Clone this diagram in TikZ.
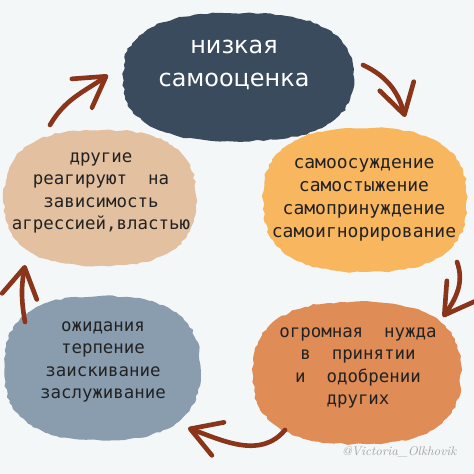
\documentclass[tikz,border=0pt]{standalone}
\usepackage{fontspec}
\newfontfamily\titrefont{DejaVu Sans}
\newfontfamily\monofont{DejaVu Sans Mono}
\usetikzlibrary{arrows.meta}

% une tache de peinture : couleur, centre x, centre y, demi-largeur, demi-hauteur
\newcommand{\tache}[5]{%
  \fill[#1] plot[domain=1:359, samples=130, variable=\t]
    ({#2 + #4*(1+0.014*rand)*sign(cos(\t))*abs(cos(\t))^0.78},
     {#3 + #5*(1+0.014*rand)*sign(sin(\t))*abs(sin(\t))^0.78}) -- cycle;}

\begin{document}
\begin{tikzpicture}[x=0.025cm,y=0.025cm]
  % Définir les couleurs du schéma
  \definecolor{fond}{HTML}{F3F7F8}
  \definecolor{ardoise}{HTML}{3A4B5E}
  \definecolor{sable}{HTML}{E3C0A0}
  \definecolor{abricot}{HTML}{F8B65E}
  \definecolor{gris}{HTML}{8A9DAF}
  \definecolor{cuivre}{HTML}{DF8C56}
  \definecolor{rouille}{HTML}{8A341A}
  \definecolor{encre}{HTML}{222222}
  \pgfmathsetseed{7}

  \tikzset{
    texte/.style={align=center, text=encre,
      font=\monofont\fontsize{12.4}{16}\selectfont},
    fleche/.style={rouille, line width=3.3pt, line cap=round,
      -{Straight Barb[length=21pt, width=25pt, round]}}
  }

  % Le fond
  \fill[fond] (0,0) rectangle (474,474);
  \useasboundingbox (0,0) rectangle (474,474);

  % Dessiner les taches de couleur
  \tache{ardoise}{238}{397}{115}{64}
  \tache{sable}{100}{276}{96}{68}
  \tache{abricot}{365}{274}{102}{72}
  \tache{gris}{102}{106}{98}{72}
  \tache{cuivre}{357}{101}{104}{71}

  % Les textes
  \node[align=center, text=white, font=\titrefont\fontsize{17}{23.4}\selectfont] (haut) at (234,409) {низкая\\самооценка};
  \node[texte] (gauche) at (101,281) {другие\\реагируют~~на\\зависимость\\агрессией,властью};
  \node[texte, font=\monofont\fontsize{12.8}{16.2}\selectfont] (droite) at (364,274) {самоосуждение\\самостыжение\\самопринуждение\\самоигнорирование};
  \node[texte] (basgauche) at (103,112) {ожидания\\терпение\\заискивание\\заслуживание};
  \node[texte] (basdroite) at (358,106) {огромная~~нужда\\в~~принятии\\и~~одобрении\\других};

  % Les extrémités des flèches
  \coordinate (f1a) at (50,349);  \coordinate (f1b) at (108,399);
  \coordinate (f2a) at (363,409); \coordinate (f2b) at (405,357);
  \coordinate (f3a) at (457,212); \coordinate (f3b) at (443,157);
  \coordinate (f4a) at (285,44);  \coordinate (f4b) at (188,46);
  \coordinate (f5a) at (25,152);  \coordinate (f5b) at (25,209);

  % Dessiner les flèches du cycle
  \draw[fleche] (f1a) to[out=60, in=215] (f1b);
  \draw[fleche] (f2a) to[out=-25, in=105] (f2b);
  \draw[fleche] (f3a) to[out=-70, in=55] (f3b);
  \draw[fleche] (f4a) to[out=230, in=-20] (f4b);
  \draw[fleche] (f5a) to[out=100, in=-100] (f5b);

  % La signature
  \node[text=gray!70, font=\itshape\fontsize{9}{9}\selectfont] (signature) at (399,22) {@Victoria\_Olkhovik};
\end{tikzpicture}
\end{document}
